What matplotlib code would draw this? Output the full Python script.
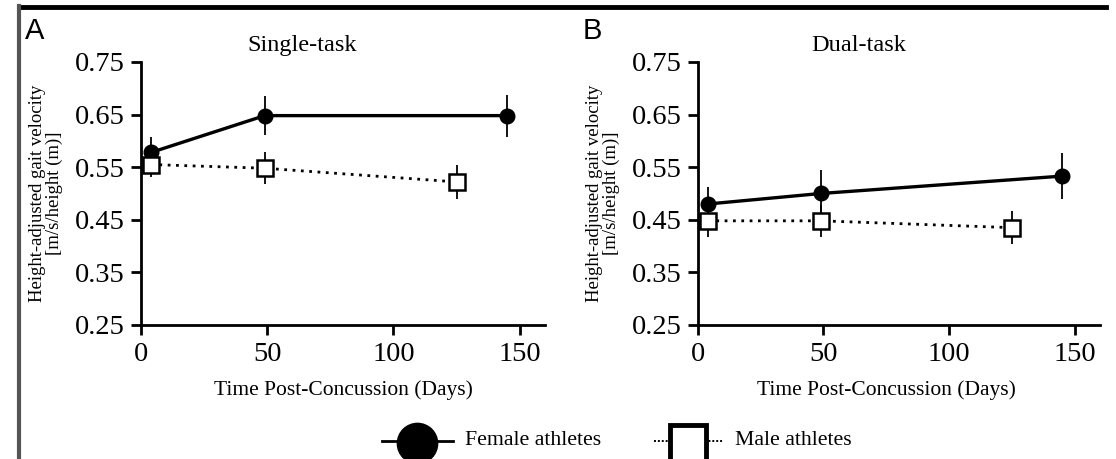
import matplotlib.pyplot as plt
from matplotlib.lines import Line2D

# days post-concussion for each visit
days_female = [4, 49, 145]
days_male = [4, 49, 125]

# single-task gait velocity (mean, error)
single_female = [0.578, 0.648, 0.648]
single_female_err = [0.030, 0.037, 0.040]
single_male = [0.555, 0.548, 0.522]
single_male_err = [0.024, 0.030, 0.033]

# dual-task gait velocity (mean, error)
dual_female = [0.480, 0.500, 0.533]
dual_female_err = [0.032, 0.045, 0.043]
dual_male = [0.448, 0.448, 0.435]
dual_male_err = [0.030, 0.030, 0.032]

yticks = [0.25, 0.35, 0.45, 0.55, 0.65, 0.75]
xticks = [0, 50, 100, 150]
group_names = ['Female athletes', 'Male athletes']

serif = 'Liberation Serif'
W, H = 1116, 459

fig = plt.figure(figsize=(W / 100, H / 100), dpi=100)


def draw_panel(ax, title, letter, fem, fem_err, mal, mal_err, xlab_x):
    ax.errorbar(days_female, fem, yerr=fem_err, color='black', lw=2.4,
                elinewidth=1.3, capsize=0, marker='o', ms=10.5,
                mfc='black', mec='black', zorder=3)
    ax.errorbar(days_male, mal, yerr=mal_err, color='black', lw=2.0,
                ls=(0, (1, 2)), elinewidth=1.3, capsize=0, marker='s',
                ms=11, mfc='white', mec='black', mew=1.8, zorder=4)
    ax.set_xlim(0, 160)
    ax.set_ylim(0.25, 0.75)
    ax.set_xticks(xticks)
    ax.set_yticks(yticks)
    ax.set_yticklabels(['%.2f' % v for v in yticks])
    for s in ['top', 'right']:
        ax.spines[s].set_visible(False)
    for s in ['left', 'bottom']:
        ax.spines[s].set_linewidth(2)
    ax.tick_params(direction='out', length=7, width=2, labelsize=20.5, pad=5)
    for lab in ax.get_xticklabels() + ax.get_yticklabels():
        lab.set_family(serif)
    ax.set_xlabel('Time Post-Concussion (Days)', family=serif, fontsize=15.5,
                  labelpad=10, x=xlab_x)
    ax.set_ylabel('Height-adjusted gait velocity\n[m/s/height (m)]', family=serif,
                  fontsize=13.5, labelpad=8, linespacing=1.0)
    ax.set_title(title, family=serif, fontsize=17.5, x=0.40, pad=8)
    ax.text(-0.287, 1.17, letter, transform=ax.transAxes, family='Liberation Sans',
            fontsize=21, va='top', ha='left')


axA = fig.add_axes([0.1263, 0.292, 0.362, 0.573])
axB = fig.add_axes([0.6254, 0.292, 0.360, 0.573])
draw_panel(axA, 'Single-task', 'A', single_female, single_female_err,
           single_male, single_male_err, 0.5)
draw_panel(axB, 'Dual-task', 'B', dual_female, dual_female_err,
           dual_male, dual_male_err, 0.47)

# frame pieces from the source figure
fig.add_artist(Line2D([0.018, 0.991], [0.984, 0.984], transform=fig.transFigure,
                      color='black', lw=3.5))
fig.add_artist(Line2D([0.017, 0.017], [0.0, 0.986], transform=fig.transFigure,
                      color='#555555', lw=3))

# legend drawn by hand (big markers, partly cut by the bottom edge)
ly = 1 - 441 / H
fig.add_artist(Line2D([382 / W, 453 / W], [ly, ly], transform=fig.transFigure,
                      color='black', lw=2))
fig.add_artist(Line2D([417 / W], [ly - 0.004], transform=fig.transFigure, marker='o',
                      ms=29, mfc='black', mec='black', ls='none'))
fig.text(465 / W, ly + 0.002, group_names[0], family=serif, fontsize=15.7,
         va='center', ha='left')
fig.add_artist(Line2D([654 / W, 723 / W], [ly, ly], transform=fig.transFigure,
                      color='black', lw=1.4, ls=(0, (1, 1))))
fig.add_artist(Line2D([688 / W], [ly - 0.004], transform=fig.transFigure, marker='s',
                      ms=26, mfc='white', mec='black', mew=3.5, ls='none'))
fig.text(735 / W, ly + 0.002, group_names[1], family=serif, fontsize=15.7,
         va='center', ha='left')

fig.savefig('out.png', dpi=100)
